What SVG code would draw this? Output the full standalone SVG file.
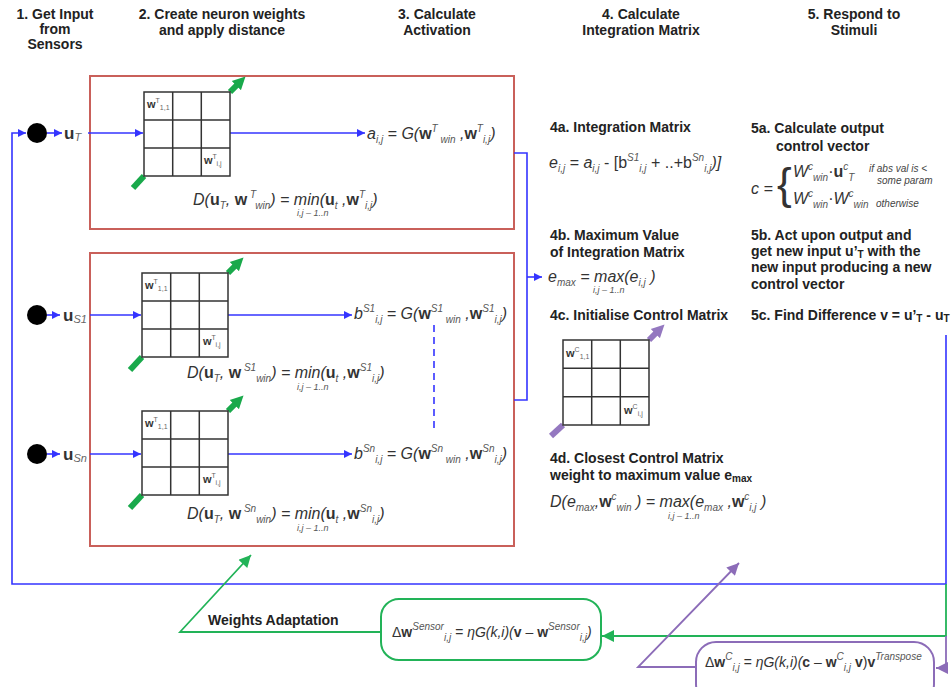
<svg xmlns="http://www.w3.org/2000/svg" width="952" height="687" viewBox="0 0 952 687">
<defs>
<style>
text{font-family:"Liberation Sans",Arial,sans-serif}
.h{font-weight:bold;font-size:14px;fill:#222;text-anchor:middle}
.lb{font-weight:bold;font-size:14px;fill:#222}
.f{font-style:italic;font-size:16px;fill:#333}
.fs{font-style:italic;font-size:14px;fill:#333}
.b{font-style:normal;font-weight:bold}
.n{font-style:normal}
.s{font-size:10px;fill:#555}
.lim{font-style:italic;font-size:9px;fill:#555}
.cl{font-size:11px;fill:#333}
.cs{font-size:7px;fill:#666}
.red{fill:none;stroke:#c9605a;stroke-width:2}
.bl{fill:none;stroke:#3434ff;stroke-width:1.6}
.gr{fill:none;stroke:#22b358;stroke-width:1.8}
.pu{fill:none;stroke:#8c6cb8;stroke-width:1.8}
.grid{fill:#fff;stroke:#333;stroke-width:1.5}
.gthick{stroke:#19a94b;stroke-width:6;fill:none}
.pthick{stroke:#9478c0;stroke-width:6;fill:none}
.note{font-style:italic;font-size:10px;fill:#444}
</style>
<marker id="ab" viewBox="0 0 10 10" refX="10" refY="5" markerWidth="9" markerHeight="8" orient="auto" markerUnits="userSpaceOnUse"><path d="M0,0 L10,5 L0,10 z" fill="#3434ff"/></marker>
<marker id="ag" viewBox="0 0 10 10" refX="10" refY="5" markerWidth="14" markerHeight="12" orient="auto" markerUnits="userSpaceOnUse"><path d="M0,0 L10,5 L0,10 z" fill="#22b358"/></marker>
<marker id="ap" viewBox="0 0 10 10" refX="10" refY="5" markerWidth="14" markerHeight="12" orient="auto" markerUnits="userSpaceOnUse"><path d="M0,0 L10,5 L0,10 z" fill="#8c6cb8"/></marker>
<marker id="agt" viewBox="0 0 10 10" refX="4" refY="5" markerWidth="13" markerHeight="16" orient="auto" markerUnits="userSpaceOnUse"><path d="M0,0 L10,5 L0,10 z" fill="#19a94b"/></marker>
<marker id="apt" viewBox="0 0 10 10" refX="4" refY="5" markerWidth="13" markerHeight="16" orient="auto" markerUnits="userSpaceOnUse"><path d="M0,0 L10,5 L0,10 z" fill="#9478c0"/></marker>
</defs>
<rect width="952" height="687" fill="#fff"/>

<g id="headers">
<text class="h" x="55" y="19">1. Get Input</text>
<text class="h" x="55" y="34">from</text>
<text class="h" x="55" y="49">Sensors</text>
<text class="h" x="222" y="19">2. Create neuron weights</text>
<text class="h" x="222" y="35">and apply distance</text>
<text class="h" x="437" y="19">3. Calculate</text>
<text class="h" x="437" y="35">Activation</text>
<text class="h" x="641" y="19">4. Calculate</text>
<text class="h" x="641" y="35">Integration Matrix</text>
<text class="h" x="854" y="19">5. Respond to</text>
<text class="h" x="854" y="35">Stimuli</text>
</g>

<g id="box-target"><rect class="red" x="90" y="76" width="424" height="153"/></g>
<g id="box-sensors"><rect class="red" x="90" y="253" width="424" height="293"/></g>

<g id="connectors">
<path class="bl" d="M946,335 V584 H12 V133 H26" marker-end="url(#ab)"/>
<path class="bl" d="M47,133 H62" marker-end="url(#ab)"/>
<path class="bl" d="M88,133 H143" marker-end="url(#ab)"/>
<path class="bl" d="M230,133 H365" marker-end="url(#ab)"/>
<path class="bl" d="M47,315 H60" marker-end="url(#ab)"/>
<path class="bl" d="M90,315 H141" marker-end="url(#ab)"/>
<path class="bl" d="M228,315 H352" marker-end="url(#ab)"/>
<path class="bl" d="M47,454 H60" marker-end="url(#ab)"/>
<path class="bl" d="M90,454 H141" marker-end="url(#ab)"/>
<path class="bl" d="M228,454 H352" marker-end="url(#ab)"/>
<path class="bl" d="M434,325 V433" stroke-dasharray="7,5"/>
<path class="bl" d="M514,153 H527 V400 H514"/>
<path class="bl" d="M527,277 H542" marker-end="url(#ab)"/>
<path class="gr" d="M946,584 V636 H602" marker-end="url(#ag)"/>
<path class="pu" d="M946,636 V668 H936" marker-end="url(#ap)"/>
<path class="gr" d="M381,632 H180 L251,555" marker-end="url(#ag)"/>
<path class="pu" d="M696,667 H638 L739,563" marker-end="url(#ap)"/>
</g>

<g id="input-T">
<circle cx="37" cy="133" r="10" fill="#000"/>
<text class="f" x="64" y="139"><tspan class="b" font-size="17">u</tspan><tspan font-size="11" fill="#666" dy="2">T</tspan></text>
</g>
<g id="input-S1">
<circle cx="37" cy="315" r="10" fill="#000"/>
<text class="f" x="63" y="321"><tspan class="b" font-size="17">u</tspan><tspan font-size="11" fill="#666" dy="2">S1</tspan></text>
</g>
<g id="input-Sn">
<circle cx="37" cy="454" r="10" fill="#000"/>
<text class="f" x="63" y="460"><tspan class="b" font-size="17">u</tspan><tspan font-size="11" fill="#666" dy="2">Sn</tspan></text>
</g>

<g id="matrix-T">
<path class="gthick" d="M133,188 L144,176"/>
<path class="gthick" d="M230,92 L240,82" marker-end="url(#agt)"/>
<rect class="grid" x="144" y="92" width="86" height="84"/>
<path class="grid" d="M172.7,92 V176 M201.3,92 V176 M144,120 H230 M144,148 H230"/>
<text class="cl" x="147" y="108"><tspan class="b">w</tspan><tspan class="cs" dy="-5">T</tspan><tspan class="cs" dy="7">1,1</tspan></text>
<text class="cl" x="204" y="164"><tspan class="b">w</tspan><tspan class="cs" dy="-5">T</tspan><tspan class="cs" dy="7">i,j</tspan></text>
</g>
<g id="matrix-S1">
<path class="gthick" d="M130,370 L142,357"/>
<path class="gthick" d="M228,273 L238,263" marker-end="url(#agt)"/>
<rect class="grid" x="142" y="273" width="86" height="84"/>
<path class="grid" d="M170.7,273 V357 M199.3,273 V357 M142,301 H228 M142,329 H228"/>
<text class="cl" x="145" y="289"><tspan class="b">w</tspan><tspan class="cs" dy="-5">T</tspan><tspan class="cs" dy="7">1,1</tspan></text>
<text class="cl" x="203" y="345"><tspan class="b">w</tspan><tspan class="cs" dy="-5">T</tspan><tspan class="cs" dy="7">i,j</tspan></text>
</g>
<g id="matrix-Sn">
<path class="gthick" d="M130,508 L142,495"/>
<path class="gthick" d="M228,411 L238,401" marker-end="url(#agt)"/>
<rect class="grid" x="142" y="411" width="86" height="84"/>
<path class="grid" d="M170.7,411 V495 M199.3,411 V495 M142,439 H228 M142,467 H228"/>
<text class="cl" x="145" y="427"><tspan class="b">w</tspan><tspan class="cs" dy="-5">T</tspan><tspan class="cs" dy="7">1,1</tspan></text>
<text class="cl" x="203" y="483"><tspan class="b">w</tspan><tspan class="cs" dy="-5">T</tspan><tspan class="cs" dy="7">i,j</tspan></text>
</g>

<g id="activation-a">
<text class="f" x="367" y="139">a<tspan class="s" dy="4">i,j</tspan><tspan dy="-4"> = G(</tspan><tspan class="b">w</tspan><tspan class="s" dy="-7">T</tspan><tspan class="s" dy="11"> win</tspan><tspan dy="-4"> ,</tspan><tspan class="b">w</tspan><tspan class="s" dy="-7">T</tspan><tspan class="s" dy="11">i,j</tspan><tspan dy="-4">)</tspan></text>
</g>
<g id="distance-T">
<text class="f" x="193" y="205">D(<tspan class="b">u</tspan><tspan class="s" dy="4">T</tspan><tspan dy="-4">, </tspan><tspan class="b">w</tspan><tspan class="s" dy="-7"> T</tspan><tspan class="s" dy="11">win</tspan><tspan dy="-4">) = min(</tspan><tspan class="b">u</tspan><tspan class="s" dy="4">t</tspan><tspan dy="-4"> ,</tspan><tspan class="b">w</tspan><tspan class="s" dy="-7">T</tspan><tspan class="s" dy="11">i,j</tspan><tspan dy="-4">)</tspan></text>
<text class="lim" x="297" y="216">i,j – 1..n</text>
</g>
<g id="activation-bS1">
<text class="f" x="354" y="319">b<tspan class="s" dy="-7">S1</tspan><tspan class="s" dy="11">i,j</tspan><tspan dy="-4"> = G(</tspan><tspan class="b">w</tspan><tspan class="s" dy="-7">S1</tspan><tspan class="s" dy="11"> win</tspan><tspan dy="-4"> ,</tspan><tspan class="b">w</tspan><tspan class="s" dy="-7">S1</tspan><tspan class="s" dy="11">i,j</tspan><tspan dy="-4">)</tspan></text>
</g>
<g id="distance-S1">
<text class="f" x="187" y="378">D(<tspan class="b">u</tspan><tspan class="s" dy="4">T</tspan><tspan dy="-4">, </tspan><tspan class="b">w</tspan><tspan class="s" dy="-7"> S1</tspan><tspan class="s" dy="11">win</tspan><tspan dy="-4">) = min(</tspan><tspan class="b">u</tspan><tspan class="s" dy="4">t</tspan><tspan dy="-4"> ,</tspan><tspan class="b">w</tspan><tspan class="s" dy="-7">S1</tspan><tspan class="s" dy="11">i,j</tspan><tspan dy="-4">)</tspan></text>
<text class="lim" x="297" y="390">i,j – 1..n</text>
</g>
<g id="activation-bSn">
<text class="f" x="354" y="459">b<tspan class="s" dy="-7">Sn</tspan><tspan class="s" dy="11">i,j</tspan><tspan dy="-4"> = G(</tspan><tspan class="b">w</tspan><tspan class="s" dy="-7">Sn</tspan><tspan class="s" dy="11"> win</tspan><tspan dy="-4"> ,</tspan><tspan class="b">w</tspan><tspan class="s" dy="-7">Sn</tspan><tspan class="s" dy="11">i,j</tspan><tspan dy="-4">)</tspan></text>
</g>
<g id="distance-Sn">
<text class="f" x="187" y="519">D(<tspan class="b">u</tspan><tspan class="s" dy="4">T</tspan><tspan dy="-4">, </tspan><tspan class="b">w</tspan><tspan class="s" dy="-7"> Sn</tspan><tspan class="s" dy="11">win</tspan><tspan dy="-4">) = min(</tspan><tspan class="b">u</tspan><tspan class="s" dy="4">t</tspan><tspan dy="-4"> ,</tspan><tspan class="b">w</tspan><tspan class="s" dy="-7">Sn</tspan><tspan class="s" dy="11">i,j</tspan><tspan dy="-4">)</tspan></text>
<text class="lim" x="297" y="531">i,j – 1..n</text>
</g>

<g id="step-4a">
<text class="lb" x="550" y="132">4a. Integration Matrix</text>
<text class="f" x="549" y="168">e<tspan class="s" dy="4">i,j</tspan><tspan dy="-4"> = a</tspan><tspan class="s" dy="4">i,j</tspan><tspan class="n" dy="-4"> - [b</tspan><tspan class="s" dy="-7">S1</tspan><tspan class="s" dy="11">i,j</tspan><tspan class="n" dy="-4"> + ..+b</tspan><tspan class="s" dy="-7">Sn</tspan><tspan class="s" dy="11">i,j</tspan><tspan dy="-4">)]</tspan></text>
</g>
<g id="step-4b">
<text class="lb" x="550" y="240">4b. Maximum Value</text>
<text class="lb" x="550" y="257">of Integration Matrix</text>
<text class="f" x="548" y="282">e<tspan class="s" dy="4">max</tspan><tspan dy="-4"> = max(e</tspan><tspan class="s" dy="4">i,j</tspan><tspan dy="-4"> )</tspan></text>
<text class="lim" x="593" y="293">i,j – 1..n</text>
</g>
<g id="step-4c">
<text class="lb" x="550" y="320">4c. Initialise Control Matrix</text>
<path class="pthick" d="M551,436 L563,425"/>
<path class="pthick" d="M649,340 L659,330" marker-end="url(#apt)"/>
<rect class="grid" x="563" y="340" width="86" height="85"/>
<path class="grid" d="M591.7,340 V425 M620.3,340 V425 M563,368.3 H649 M563,396.7 H649"/>
<text class="cl" x="566" y="357"><tspan class="b">w</tspan><tspan class="cs" dy="-5">C</tspan><tspan class="cs" dy="7">1,1</tspan></text>
<text class="cl" x="624" y="414"><tspan class="b">w</tspan><tspan class="cs" dy="-5">C</tspan><tspan class="cs" dy="7">i,j</tspan></text>
</g>
<g id="step-4d">
<text class="lb" x="550" y="463">4d. Closest Control Matrix</text>
<text class="lb" x="550" y="480">weight to maximum value e<tspan font-size="10" dy="2">max</tspan></text>
<text class="f" x="550" y="507">D(e<tspan class="s" dy="4">max</tspan><tspan dy="-4">,</tspan><tspan class="b">w</tspan><tspan class="s" dy="-7">c</tspan><tspan class="s" dy="11">win</tspan><tspan dy="-4"> ) = max(e</tspan><tspan class="s" dy="4">max</tspan><tspan dy="-4"> ,</tspan><tspan class="b">w</tspan><tspan class="s" dy="-7">c</tspan><tspan class="s" dy="11">i,j</tspan><tspan dy="-4"> )</tspan></text>
<text class="lim" x="668" y="519">i,j – 1..n</text>
</g>

<g id="step-5a">
<text class="lb" x="751" y="133">5a. Calculate output</text>
<text class="lb" x="776" y="151">control vector</text>
<text class="f" x="751" y="194" font-size="17">c =</text>
<text x="777" y="199" font-size="44" fill="#333">{</text>
<text class="f" x="793" y="177" font-size="15">W<tspan class="s" dy="-7">c</tspan><tspan class="s" dy="11">win</tspan><tspan class="n" dy="-4">·</tspan><tspan class="b" font-size="16">u</tspan><tspan class="s" dy="-7">c</tspan><tspan class="s" dy="11">T</tspan></text>
<text class="f" x="793" y="204" font-size="15">W<tspan class="s" dy="-7">c</tspan><tspan class="s" dy="11">win</tspan><tspan class="n" dy="-4">·</tspan>W<tspan class="s" dy="-7">c</tspan><tspan class="s" dy="11">win</tspan></text>
<text class="note" x="869" y="172">if abs val is &lt;</text>
<text class="note" x="877" y="184">some param</text>
<text class="note" x="876" y="207">otherwise</text>
</g>
<g id="step-5b">
<text class="lb" x="751" y="240">5b. Act upon output and</text>
<text class="lb" x="751" y="256">get new input u’<tspan font-size="10" dy="2">T</tspan><tspan dy="-2"> with the</tspan></text>
<text class="lb" x="751" y="272">new input producing a new</text>
<text class="lb" x="751" y="289">control vector</text>
</g>
<g id="step-5c">
<text class="lb" x="751" y="320">5c. Find Difference v = u’<tspan font-size="10" dy="2">T</tspan><tspan dy="-2"> - u</tspan><tspan font-size="10" dy="2">T</tspan></text>
</g>

<g id="weights-adaptation">
<text class="lb" x="208" y="625">Weights Adaptation</text>
</g>
<g id="sensor-update">
<rect x="381" y="599" width="220" height="61" rx="18" fill="#fff" stroke="#22b358" stroke-width="2"/>
<text class="fs" x="392" y="637"><tspan class="n">Δ</tspan><tspan class="b">w</tspan><tspan class="s" dy="-7">Sensor</tspan><tspan class="s" dy="11">i,j</tspan><tspan dy="-4"> = ηG(k,i)(</tspan><tspan class="b">v</tspan><tspan> – </tspan><tspan class="b">w</tspan><tspan class="s" dy="-7">Sensor</tspan><tspan class="s" dy="11">i,j</tspan><tspan dy="-4">)</tspan></text>
</g>
<g id="control-update">
<rect x="696" y="642" width="238" height="62" rx="20" fill="#fff" stroke="#8c6cb8" stroke-width="2"/>
<text class="fs" x="705" y="667"><tspan class="n">Δ</tspan><tspan class="b">w</tspan><tspan class="s" dy="-7">C</tspan><tspan class="s" dy="11">i,j</tspan><tspan dy="-4"> = ηG(k,i)(</tspan><tspan class="b">c</tspan><tspan> – </tspan><tspan class="b">w</tspan><tspan class="s" dy="-7">C</tspan><tspan class="s" dy="11">i,j</tspan><tspan class="b" dy="-4"> v</tspan><tspan class="n">)</tspan><tspan class="b">v</tspan><tspan class="s" dy="-7">Transpose</tspan></text>
</g>
</svg>
